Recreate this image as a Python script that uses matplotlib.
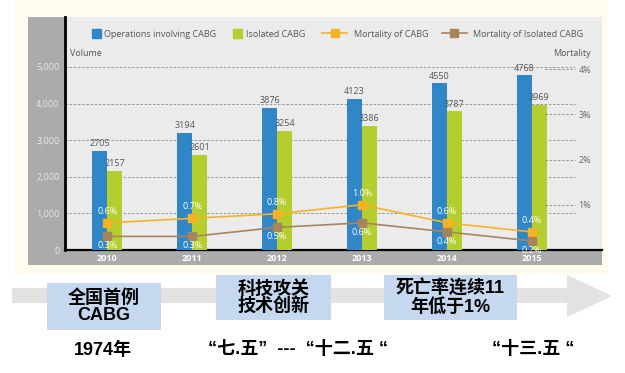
import matplotlib.pyplot as plt
import matplotlib.patches as mpatches
from matplotlib.lines import Line2D
import numpy as np

plt.rcParams['font.family'] = ['Open Sans', 'DejaVu Sans']

years = ['2010', '2011', '2012', '2013', '2014', '2015']
operations = [2705, 3194, 3876, 4123, 4550, 4768]
isolated = [2157, 2601, 3254, 3386, 3787, 3969]
mort_cabg = [0.6, 0.7, 0.8, 1.0, 0.6, 0.4]
mort_iso = [0.3, 0.3, 0.5, 0.6, 0.4, 0.2]
left_ticks = [0, 1000, 2000, 3000, 4000, 5000]
right_ticks = [1, 2, 3, 4]

milestones = ['全国首例\nCABG', '科技攻关\n技术创新', '死亡率连续11\n年低于1%']
periods = ['1974年', '“七.五”  ---  “十二.五 “', '“十三.五 “']

W, H = 625, 373
BLUE = '#2f87c8'
GREEN = '#b6cd2f'
ORANGE = '#f6b324'
BROWN = '#a8845c'
CJK = ['Liberation Sans', 'Noto Sans CJK SC']


def fx(px):
    return px / W


def fy(py):
    return 1 - py / H


def frect(x0, y0, x1, y1, color, z=-10):
    # rectangle given in pixel coords (top-left origin)
    r = mpatches.Rectangle((fx(x0), fy(y1)), fx(x1) - fx(x0), fy(y0) - fy(y1),
                           transform=fig.transFigure, color=color, zorder=z, lw=0)
    fig.patches.append(r)


fig = plt.figure(figsize=(W / 100, H / 100), dpi=100)
fig.patch.set_facecolor('white')

# panels
frect(15, 0, 608, 275, '#fffcef', z=-20)
frect(28, 17, 602, 265, '#ababab', z=-10)

ax = fig.add_axes([fx(65), fy(250), fx(602) - fx(65), fy(17) - fy(250)])
ax.set_facecolor('#ebebeb')
x = np.arange(len(years))
bw = 0.177
ax.bar(x - bw / 2, operations, bw, color=BLUE, zorder=3)
ax.bar(x + bw / 2, isolated, bw, color=GREEN, zorder=3)
for xi, v in zip(x, operations):
    ax.annotate(str(v), (xi - bw / 2, v), xytext=(0, 2), textcoords='offset points',
                ha='center', va='bottom', fontsize=6.5, color='#555555', zorder=4)
for xi, v in zip(x, isolated):
    ax.annotate(str(v), (xi + bw / 2, v), xytext=(0, 2), textcoords='offset points',
                ha='center', va='bottom', fontsize=6.5, color='#555555', zorder=4)

ax.set_xlim(-0.5, 5.83)
ax.set_ylim(0, 6366)
ax.set_xticks(x)
ax.set_xticklabels(years, color='white', fontweight='bold', fontsize=6.5)
ax.set_yticks(left_ticks)
ax.set_yticklabels([f'{t:,}' for t in left_ticks], color='#e8e8e8', fontsize=6.5)
ax.tick_params(length=0, pad=3)
ax.tick_params(axis='y', pad=4)
ax.hlines(left_ticks[1:], 0, 0.95, transform=ax.get_yaxis_transform(),
          colors='#8a8a8a', linestyles=(0, (3, 2)), lw=0.6, zorder=1)
for s in ['top', 'right']:
    ax.spines[s].set_visible(False)
ax.spines['left'].set_linewidth(2)
ax.spines['bottom'].set_linewidth(1.6)
ax.spines['left'].set_color('black')
ax.spines['bottom'].set_color('black')

ax2 = ax.twinx()
ax2.set_ylim(0, 5.15)
ax2.plot(x, mort_cabg, color=ORANGE, lw=1.2, marker='s', ms=6, zorder=5)
ax2.plot(x, mort_iso, color=BROWN, lw=1.2, marker='s', ms=6, zorder=5)
for xi, v in zip(x, mort_cabg):
    ax2.annotate(f'{v:.1f}%', (xi, v), xytext=(0, 5), textcoords='offset points',
                 ha='center', va='bottom', fontsize=6.5, color='white', zorder=6)
for xi, v in zip(x, mort_iso):
    ax2.annotate(f'{v:.1f}%', (xi, v), xytext=(0, -3.5), textcoords='offset points',
                 ha='center', va='top', fontsize=6.5, color='white', zorder=6)
ax2.set_yticks(right_ticks)
ax2.set_yticklabels([f'{t}%' for t in right_ticks], color='#666666', fontsize=6.5)
ax2.tick_params(length=0, pad=-17)
ax2.hlines(right_ticks, 0.894, 0.95, transform=ax2.get_yaxis_transform(),
           colors='#8a8a8a', linestyles=(0, (3, 2)), lw=0.6)
for s in ax2.spines.values():
    s.set_visible(False)

fig.text(fx(70), fy(53), 'Volume', fontsize=6.5, color='#555555', va='center', ha='left')
fig.text(fx(591), fy(53), 'Mortality', fontsize=6.5, color='#555555', va='center', ha='right')

# legends: bar squares and mortality lines
bar_handles = [mpatches.Patch(color=BLUE), mpatches.Patch(color=GREEN)]
bar_labels = ['Operations involving CABG', 'Isolated CABG']
line_handles = [Line2D([], [], color=ORANGE, lw=1.2, marker='s', ms=6),
                Line2D([], [], color=BROWN, lw=1.2, marker='s', ms=6)]
line_labels = ['Mortality of CABG', 'Mortality of Isolated CABG']
leg1 = ax2.legend(bar_handles, bar_labels, loc='center left', bbox_to_anchor=(0.035, 0.927),
                  ncol=2, frameon=False, fontsize=6.5, handlelength=1.0, handleheight=1.0,
                  handletextpad=0.35, columnspacing=1.9, labelcolor='#555555')
ax2.add_artist(leg1)
ax2.legend(line_handles, line_labels, loc='center left', bbox_to_anchor=(0.464, 0.927),
           ncol=2, frameon=False, fontsize=6.5, handlelength=2.77,
           handletextpad=0.75, columnspacing=1.45, labelcolor='#555555')

# timeline arrow
arrow = mpatches.Polygon([(fx(12), fy(288)), (fx(567), fy(288)), (fx(567), fy(275)),
                          (fx(612), fy(296)), (fx(567), fy(317)), (fx(567), fy(303)),
                          (fx(12), fy(303))], closed=True, transform=fig.transFigure,
                         color='#e2e2e2', lw=0, zorder=1)
fig.patches.append(arrow)

boxes = [(47, 283, 161, 330), (216, 275, 331, 320), (384, 275, 517, 320)]
for (x0, y0, x1, y1), txt in zip(boxes, milestones):
    frect(x0, y0, x1, y1, '#c5d8ef', z=2)
    fig.text(fx((x0 + x1) / 2), fy((y0 + y1) / 2), txt, ha='center', va='center',
             fontsize=13, fontweight='bold', family=CJK, linespacing=1.0, zorder=3)

for cx, txt in zip([103, 298, 533], periods):
    fig.text(fx(cx), fy(350), txt, ha='center', va='center', fontsize=13,
             fontweight='bold', family=CJK)

fig.savefig('out.png', dpi=100)
